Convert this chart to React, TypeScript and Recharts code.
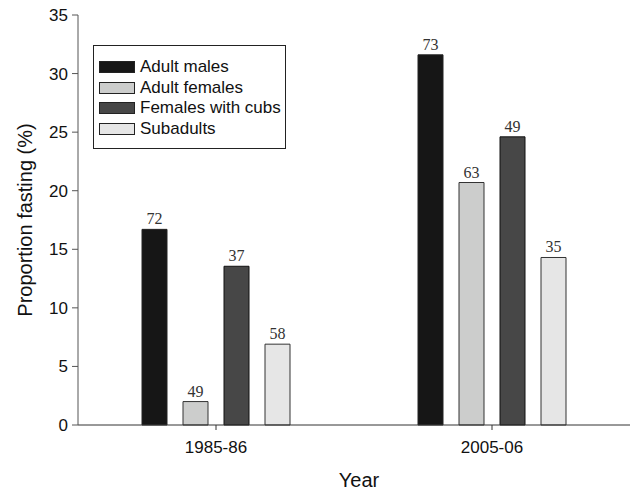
import { BarChart, Bar, XAxis, YAxis, LabelList, Label } from 'recharts';

const YEARS = ['1985-86', '2005-06'];
const ADULT_MALES = [16.7, 31.6];
const ADULT_FEMALES = [2.0, 20.7];
const FEMALES_CUBS = [13.55, 24.6];
const SUBADULTS = [6.9, 14.3];
// sample sizes printed above bars
const N_MALES = [72, 73];
const N_FEMALES = [49, 63];
const N_CUBS = [37, 49];
const N_SUB = [58, 35];
const Y_TICKS = [0, 5, 10, 15, 20, 25, 30, 35];

const SERIES = [
    { key: 'males', n: 'nMales', name: 'Adult males', fill: '#161616', stroke: '#222' },
    { key: 'females', n: 'nFemales', name: 'Adult females', fill: '#cccdcc', stroke: '#333' },
    { key: 'cubs', n: 'nCubs', name: 'Females with cubs', fill: '#474747', stroke: '#111' },
    { key: 'sub', n: 'nSub', name: 'Subadults', fill: '#e6e6e6', stroke: '#333' },
];

const data = YEARS.map((year, i) => ({
    year,
    males: ADULT_MALES[i],
    females: ADULT_FEMALES[i],
    cubs: FEMALES_CUBS[i],
    sub: SUBADULTS[i],
    nMales: N_MALES[i],
    nFemales: N_FEMALES[i],
    nCubs: N_CUBS[i],
    nSub: N_SUB[i],
}));

const SANS = 'Arial, "Liberation Sans", Helvetica, sans-serif';

// legend drawn as an overlay so it doesn't take room from the plot
function LegendBox() {
    return (
        <div style={{ position: 'absolute', left: 93, top: 45, boxSizing: 'border-box', width: 193, height: 104, border: '1px solid #222', background: '#fff', padding: '11px 0 0 5px', fontFamily: SANS, fontSize: 17, color: '#111', whiteSpace: 'nowrap' }}>
            {SERIES.map((s) => (
                <div key={s.key} style={{ display: 'flex', alignItems: 'center', height: 20.5 }}>
                    <div style={{ boxSizing: 'border-box', width: 36, height: 12, background: s.fill, border: '1px solid #222', marginRight: 5, flexShrink: 0 }} />
                    <span>{s.name}</span>
                </div>
            ))}
        </div>
    );
}

export default function App() {
    return (
        <div style={{ position: 'absolute', left: 0, top: 0, width: 640, height: 491, background: '#fff' }}>
            <BarChart width={640} height={491} data={data} margin={{ top: 15, right: 10, bottom: 0, left: 0 }}
                barSize={25} barGap={16} barCategoryGap="23%">
                <XAxis dataKey="year" height={66} stroke="#333" tickSize={5} tickLine={{ stroke: '#333' }}
                    tick={{ fontSize: 17, fill: '#111', fontFamily: SANS }} tickMargin={11}>
                    <Label value="Year" position="insideBottom" offset={4} dx={5} style={{ fontSize: 20, fill: '#111', fontFamily: SANS }} />
                </XAxis>
                <YAxis width={78} domain={[0, 35]} ticks={Y_TICKS} stroke="#555" tickSize={6}
                    tick={{ fontSize: 17, fill: '#111', fontFamily: SANS }} tickMargin={4} interval={0}>
                    <Label value="Proportion fasting (%)" angle={-90} position="insideLeft" offset={25}
                        style={{ fontSize: 20, fill: '#111', fontFamily: SANS, textAnchor: 'middle' }} />
                </YAxis>
                {SERIES.map((s) => (
                    <Bar key={s.key} dataKey={s.key} name={s.name} fill={s.fill} stroke={s.stroke} strokeWidth={1} isAnimationActive={false}>
                        <LabelList dataKey={s.n} position="top" offset={5}
                            style={{ fontSize: 16, fill: '#333', fontFamily: '"Liberation Serif", "Times New Roman", serif' }} />
                    </Bar>
                ))}
            </BarChart>
            <LegendBox />
        </div>
    );
}
